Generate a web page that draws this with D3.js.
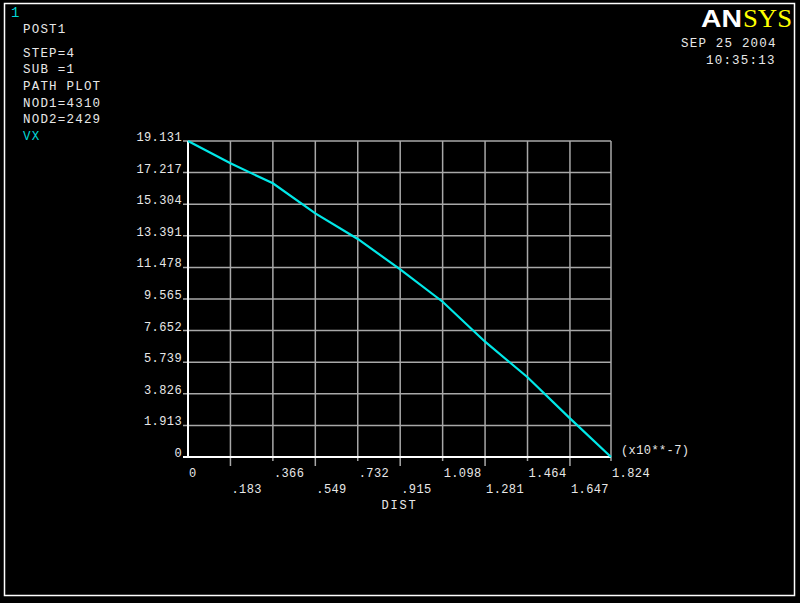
<!DOCTYPE html>
<html><head><meta charset="utf-8">
<script src="https://cdn.jsdelivr.net/npm/d3@7"></script>
<style>
html,body{margin:0;padding:0;background:#000;}
svg{display:block;}
text{font-family:"Liberation Mono","DejaVu Sans Mono",monospace;fill:#e8e8e8;}
</style></head>
<body>
<script>
const dist = [0, 0.183, 0.366, 0.549, 0.732, 0.915, 1.098, 1.281, 1.464, 1.647, 1.824];
const vx = [19.131, 17.78, 16.57, 14.75, 13.20, 11.36, 9.40, 6.98, 4.83, 2.34, 0];
const xTickLabels = ["0", ".183", ".366", ".549", ".732", ".915", "1.098", "1.281", "1.464", "1.647", "1.824"];
const yTickValues = [0, 1.913, 3.826, 5.739, 7.652, 9.565, 11.478, 13.391, 15.304, 17.217, 19.131];
const yTickLabels = ["0", "1.913", "3.826", "5.739", "7.652", "9.565", "11.478", "13.391", "15.304", "17.217", "19.131"];
const headerLines = ["POST1", "STEP=4", "SUB =1", "PATH PLOT", "NOD1=4310", "NOD2=2429"];

const W = 800, H = 603;
const svg = d3.select("body").append("svg").attr("width", W).attr("height", H);
svg.append("rect").attr("width", W).attr("height", H).attr("fill", "#000");
svg.append("rect").attr("x", 4.5).attr("y", 3.5).attr("width", 790).attr("height", 592)
  .attr("fill", "none").attr("stroke", "#fff").attr("stroke-width", 1.5);

const x = d3.scaleLinear().domain([0, 1.824]).range([188, 611]);
const y = d3.scaleLinear().domain([0, 19.131]).range([457, 141]);

// grid
const g = svg.append("g");
g.selectAll(".vg").data(dist.slice(1)).enter().append("line")
  .attr("x1", d => x(d)).attr("x2", d => x(d)).attr("y1", y(19.131)).attr("y2", y(0))
  .attr("stroke", "#a8a8a8").attr("stroke-width", 1.5);
g.selectAll(".hg").data(yTickValues.slice(1)).enter().append("line")
  .attr("x1", x(0) - 5).attr("x2", x(1.824)).attr("y1", d => y(d)).attr("y2", d => y(d))
  .attr("stroke", "#a8a8a8").attr("stroke-width", 1.5);
// x tick marks below axis
g.selectAll(".xt").data(dist.slice(1)).enter().append("line")
  .attr("x1", d => x(d)).attr("x2", d => x(d)).attr("y1", y(0))
  .attr("y2", (d, i) => y(0) + (i % 2 === 0 ? 9 : 4))
  .attr("stroke", "#a8a8a8").attr("stroke-width", 1.5);
// axes
g.append("line").attr("x1", x(0)).attr("x2", x(0)).attr("y1", y(19.131)).attr("y2", y(0) + 1)
  .attr("stroke", "#fff").attr("stroke-width", 2);
g.append("line").attr("x1", x(0) - 5).attr("x2", x(1.824)).attr("y1", y(0)).attr("y2", y(0))
  .attr("stroke", "#fff").attr("stroke-width", 2);

// y labels
svg.selectAll(".yl").data(yTickValues).enter().append("text")
  .attr("x", 182).attr("y", d => y(d)).attr("text-anchor", "end")
  .attr("font-size", 12).attr("letter-spacing", 0.4)
  .text((d, i) => yTickLabels[i]);
// x labels
svg.selectAll(".xl").data(dist).enter().append("text")
  .attr("x", d => x(d) + 1).attr("y", (d, i) => i % 2 === 0 ? 477 : 493)
  .attr("font-size", 12).attr("letter-spacing", 0.4)
  .text((d, i) => xTickLabels[i]);
svg.append("text").attr("x", 399.5).attr("y", 509).attr("text-anchor", "middle")
  .attr("font-size", 12).attr("letter-spacing", 1.8).text("DIST");
svg.append("text").attr("x", 621).attr("y", 454)
  .attr("font-size", 12).attr("letter-spacing", 0.4).text("(x10**-7)");

// line
const line = d3.line().x(d => x(d[0])).y(d => y(d[1]));
svg.append("path").datum(dist.map((d, i) => [d, vx[i]]))
  .attr("d", line).attr("fill", "none").attr("stroke", "#00e8e8").attr("stroke-width", 2.2);

// header
svg.append("text").attr("x", 11).attr("y", 17).attr("font-size", 14).style("fill", "#00d8d8").text("1");
svg.selectAll(".hd").data(headerLines).enter().append("text")
  .attr("x", 23).attr("y", (d, i) => i === 0 ? 32.5 : 56.7 + (i - 1) * 16.6)
  .attr("font-size", 12.5).attr("letter-spacing", 1.2).text(d => d);
svg.append("text").attr("x", 23).attr("y", 139.5).attr("font-size", 12.5).attr("letter-spacing", 1.2)
  .style("fill", "#00d8d8").text("VX");

// date/time
svg.append("text").attr("x", 681).attr("y", 47).attr("font-size", 12.5).attr("letter-spacing", 1.2).text("SEP 25 2004");
svg.append("text").attr("x", 706).attr("y", 63.5).attr("font-size", 12.5).attr("letter-spacing", 1.2).text("10:35:13");

// logo
svg.append("text").attr("x", 701).attr("y", 27).attr("font-size", 24).attr("font-weight", "bold")
  .style("font-family", "'Liberation Sans', Arial, sans-serif").style("fill", "#fff")
  .attr("textLength", 41).attr("lengthAdjust", "spacingAndGlyphs").text("AN");
svg.append("text").attr("x", 743).attr("y", 27).attr("font-size", 25)
  .style("font-family", "'Liberation Serif', 'Times New Roman', serif").style("fill", "#ffff00")
  .attr("textLength", 49).attr("lengthAdjust", "spacingAndGlyphs").text("SYS");
</script>
</body></html>
